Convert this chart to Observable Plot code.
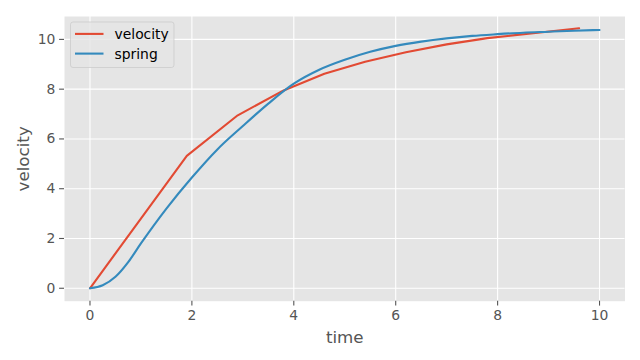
<!DOCTYPE html>
<html>
<head>
<meta charset="utf-8">
<script src="https://cdn.jsdelivr.net/npm/d3@7"></script>
<script src="https://cdn.jsdelivr.net/npm/@observablehq/plot@0.6"></script>
<style>
  html, body { margin: 0; padding: 0; background: white; }
  #wrap { position: relative; width: 640px; height: 360px; }
  #legend { position: absolute; left: 0; top: 0; }
</style>
</head>
<body>
<div id="wrap"></div>
<script>
// Data
const velocityTime  = [0, 1.9, 2.9, 3.8, 4.6, 5.4, 6.2, 7.0, 7.8, 8.7, 9.6];
const velocityValue = [0, 5.32, 6.95, 7.95, 8.62, 9.1, 9.48, 9.8, 10.05, 10.25, 10.45];

const springTime  = [0, 0.25, 0.5, 0.75, 1, 1.5, 2, 2.5, 3, 3.5, 4, 4.5, 5, 5.5, 6, 6.5, 7, 7.5, 8, 8.5, 9, 9.5, 10];
const springValue = [0, 0.12, 0.46, 1.05, 1.8, 3.2, 4.45, 5.58, 6.52, 7.42, 8.22, 8.78, 9.18, 9.5, 9.74, 9.91, 10.04, 10.14, 10.21, 10.27, 10.31, 10.35, 10.38];

const xTicks = [0, 2, 4, 6, 8, 10];
const yTicks = [0, 2, 4, 6, 8, 10];
const xTickLabels = ["0", "2", "4", "6", "8", "10"];
const yTickLabels = ["0", "2", "4", "6", "8", "10"];

const seriesNames = ["velocity", "spring"];
const seriesColors = ["#E24A33", "#348ABD"];

const velocityRows = velocityTime.map((t, i) => ({t, v: velocityValue[i]}));
const springRows = springTime.map((t, i) => ({t, v: springValue[i]}));

const textColor = "#555555";

const chart = Plot.plot({
  width: 640,
  height: 360,
  marginLeft: 64,
  marginRight: 15.5,
  marginTop: 16,
  marginBottom: 59.3,
  style: {fontFamily: "DejaVu Sans", background: "white", overflow: "visible"},
  x: {domain: [-0.5, 10.5]},
  y: {domain: [-0.52, 10.92]},
  marks: [
    Plot.frame({fill: "#E5E5E5", stroke: null}),
    Plot.gridX(xTicks, {stroke: "white", strokeOpacity: 1, strokeWidth: 1.1}),
    Plot.gridY(yTicks, {stroke: "white", strokeOpacity: 1, strokeWidth: 1.1}),
    Plot.axisX(xTicks, {
      tickSize: 4.9, tickPadding: 4.2, fontSize: 13.9, color: textColor,
      strokeWidth: 1.1, label: null,
      tickFormat: (d, i) => xTickLabels[i]
    }),
    Plot.axisY(yTicks, {
      tickSize: 4.9, tickPadding: 4.2, fontSize: 13.9, color: textColor,
      strokeWidth: 1.1, label: null,
      tickFormat: (d, i) => yTickLabels[i]
    }),
    Plot.text(["time"], {
      frameAnchor: "bottom", dy: 41.6, lineAnchor: "bottom", textAnchor: "middle",
      fontSize: 16.7, fill: textColor, text: d => d
    }),
    Plot.text(["velocity"], {
      frameAnchor: "left", dx: -47.3, rotate: -90, lineAnchor: "top", textAnchor: "middle",
      fontSize: 16.7, fill: textColor, text: d => d
    }),
    Plot.line(velocityRows, {x: "t", y: "v", stroke: seriesColors[0], strokeWidth: 2.1}),
    Plot.line(springRows, {x: "t", y: "v", stroke: seriesColors[1], strokeWidth: 2.1, curve: "monotone-x"})
  ]
});

const wrap = document.getElementById("wrap");
wrap.appendChild(chart);

// Legend (inside the axes, upper left)
const leg = d3.select(wrap).append("svg")
  .attr("id", "legend")
  .attr("width", 640).attr("height", 360)
  .style("pointer-events", "none");

leg.append("rect")
  .attr("x", 70.5).attr("y", 22).attr("width", 103.5).attr("height", 45.5)
  .attr("rx", 2.5).attr("ry", 2.5)
  .attr("fill", "rgba(229,229,229,0.8)")
  .attr("stroke", "rgba(204,204,204,0.8)")
  .attr("stroke-width", 1);

const rowY = [33.9, 53.6];
seriesNames.forEach((name, i) => {
  leg.append("line")
    .attr("x1", 75).attr("x2", 103.5)
    .attr("y1", rowY[i]).attr("y2", rowY[i])
    .attr("stroke", seriesColors[i]).attr("stroke-width", 2.1);
  leg.append("text")
    .attr("x", 114.5).attr("y", rowY[i] + 4.9)
    .attr("font-family", "DejaVu Sans")
    .attr("font-size", 13.9)
    .attr("fill", "#000")
    .text(name);
});
</script>
</body>
</html>
